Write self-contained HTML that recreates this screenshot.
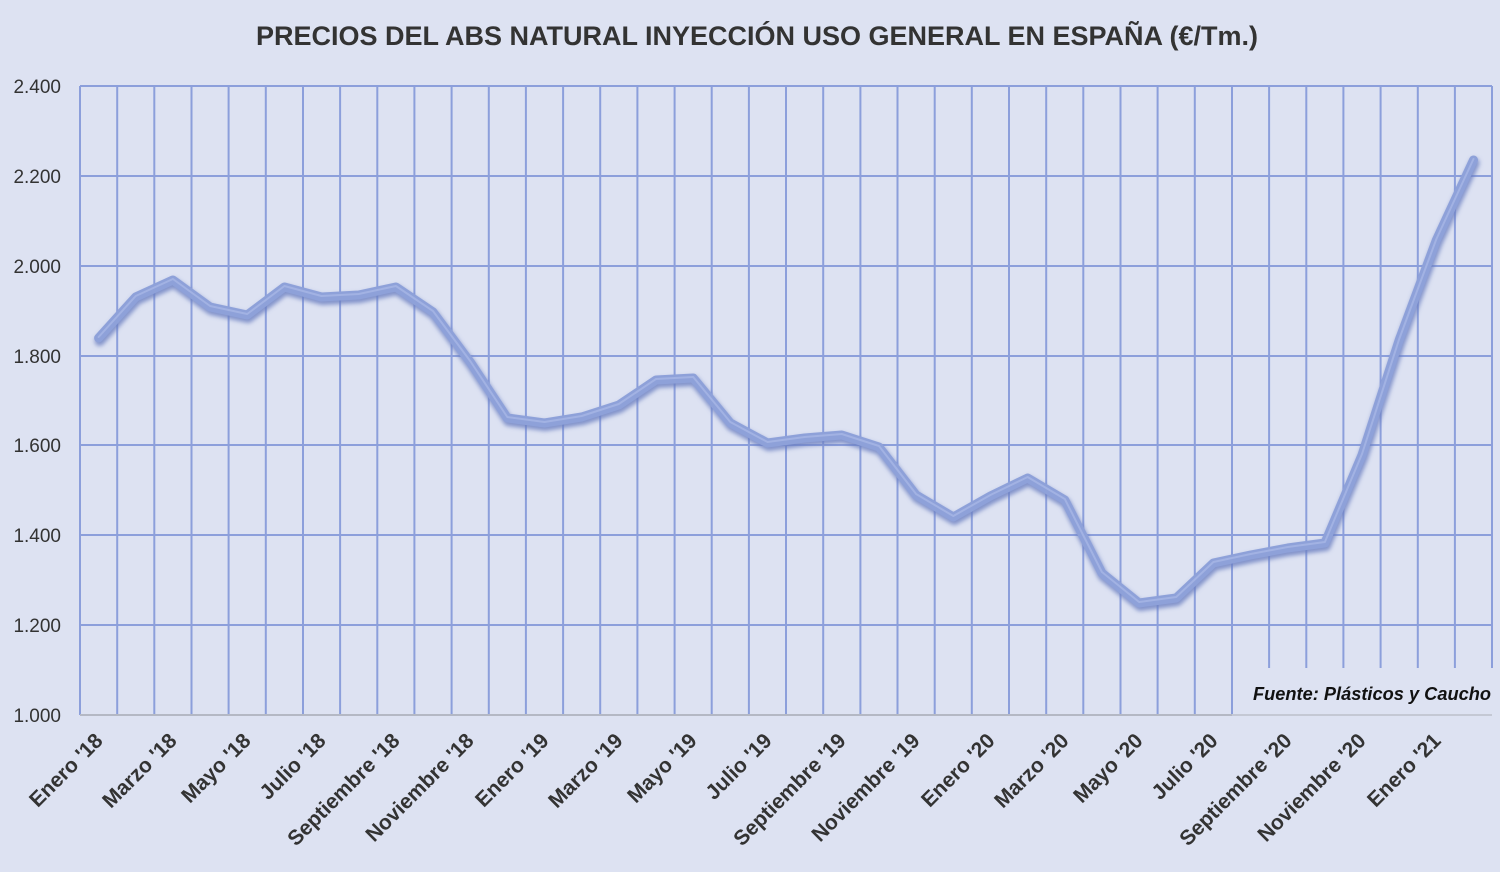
<!DOCTYPE html>
<html>
<head>
<meta charset="utf-8">
<style>
  html,body{margin:0;padding:0;background:#dde2f2;}
  svg{display:block;}
</style>
</head>
<body>
<svg width="1500" height="872" viewBox="0 0 1500 872" xmlns="http://www.w3.org/2000/svg">
  <defs>
    <filter id="blur" x="-5%" y="-5%" width="110%" height="110%">
      <feGaussianBlur stdDeviation="2"/>
    </filter>
  </defs>
  <rect x="0" y="0" width="1500" height="872" fill="#dde2f2"/>

  <!-- Title -->
  <text x="256" y="45" font-family="Liberation Sans, sans-serif" font-weight="bold" font-size="27" fill="#333333" textLength="1002" lengthAdjust="spacingAndGlyphs">PRECIOS DEL ABS NATURAL INYECCIÓN  USO GENERAL EN ESPAÑA  (€/Tm.)</text>

  <!-- Horizontal gridlines -->
  <g stroke="#8c9fdb" stroke-width="2">
    <line x1="80" y1="86" x2="1492" y2="86"/>
    <line x1="80" y1="176" x2="1492" y2="176"/>
    <line x1="80" y1="266" x2="1492" y2="266"/>
    <line x1="80" y1="356" x2="1492" y2="356"/>
    <line x1="80" y1="445" x2="1492" y2="445"/>
    <line x1="80" y1="535" x2="1492" y2="535"/>
    <line x1="80" y1="625" x2="1492" y2="625"/>
  </g>
  <!-- Vertical gridlines -->
  <g stroke="#8c9fdb" stroke-width="2">
    <line x1="80.0" y1="86" x2="80.0" y2="715"/>
    <line x1="117.2" y1="86" x2="117.2" y2="715"/>
    <line x1="154.3" y1="86" x2="154.3" y2="715"/>
    <line x1="191.5" y1="86" x2="191.5" y2="715"/>
    <line x1="228.6" y1="86" x2="228.6" y2="715"/>
    <line x1="265.8" y1="86" x2="265.8" y2="715"/>
    <line x1="303.0" y1="86" x2="303.0" y2="715"/>
    <line x1="340.1" y1="86" x2="340.1" y2="715"/>
    <line x1="377.3" y1="86" x2="377.3" y2="715"/>
    <line x1="414.4" y1="86" x2="414.4" y2="715"/>
    <line x1="451.6" y1="86" x2="451.6" y2="715"/>
    <line x1="488.8" y1="86" x2="488.8" y2="715"/>
    <line x1="525.9" y1="86" x2="525.9" y2="715"/>
    <line x1="563.1" y1="86" x2="563.1" y2="715"/>
    <line x1="600.2" y1="86" x2="600.2" y2="715"/>
    <line x1="637.4" y1="86" x2="637.4" y2="715"/>
    <line x1="674.6" y1="86" x2="674.6" y2="715"/>
    <line x1="711.7" y1="86" x2="711.7" y2="715"/>
    <line x1="748.9" y1="86" x2="748.9" y2="715"/>
    <line x1="786.0" y1="86" x2="786.0" y2="715"/>
    <line x1="823.2" y1="86" x2="823.2" y2="715"/>
    <line x1="860.4" y1="86" x2="860.4" y2="715"/>
    <line x1="897.5" y1="86" x2="897.5" y2="715"/>
    <line x1="934.7" y1="86" x2="934.7" y2="715"/>
    <line x1="971.8" y1="86" x2="971.8" y2="715"/>
    <line x1="1009.0" y1="86" x2="1009.0" y2="715"/>
    <line x1="1046.2" y1="86" x2="1046.2" y2="715"/>
    <line x1="1083.3" y1="86" x2="1083.3" y2="715"/>
    <line x1="1120.5" y1="86" x2="1120.5" y2="715"/>
    <line x1="1157.6" y1="86" x2="1157.6" y2="715"/>
    <line x1="1194.8" y1="86" x2="1194.8" y2="715"/>
    <line x1="1232.0" y1="86" x2="1232.0" y2="715"/>
    <line x1="1269.1" y1="86" x2="1269.1" y2="715"/>
    <line x1="1306.3" y1="86" x2="1306.3" y2="715"/>
    <line x1="1343.4" y1="86" x2="1343.4" y2="715"/>
    <line x1="1380.6" y1="86" x2="1380.6" y2="715"/>
    <line x1="1417.8" y1="86" x2="1417.8" y2="715"/>
    <line x1="1454.9" y1="86" x2="1454.9" y2="715"/>
    <line x1="1492.0" y1="86" x2="1492.0" y2="715"/>
  </g>

  <!-- Legend / source box covering grid -->
  <rect x="1233" y="668" width="262" height="47" fill="#dde2f2"/>

  <!-- X axis line -->
  <line x1="80" y1="715" x2="1232" y2="715" stroke="#b4b8c4" stroke-width="2"/>
  <line x1="1232" y1="715" x2="1492" y2="715" stroke="#c4c8d4" stroke-width="2"/>

  <!-- Y axis labels -->
  <g font-family="Liberation Sans, sans-serif" font-size="19" fill="#333333" text-anchor="end">
    <text x="61" y="93">2.400</text>
    <text x="61" y="183">2.200</text>
    <text x="61" y="273">2.000</text>
    <text x="61" y="363">1.800</text>
    <text x="61" y="452">1.600</text>
    <text x="61" y="542">1.400</text>
    <text x="61" y="632">1.200</text>
    <text x="61" y="722">1.000</text>
  </g>

  <!-- Data line -->
  <g fill="none" stroke-linejoin="round" stroke-linecap="round">
    <polyline filter="url(#blur)" transform="translate(1,3)" stroke="#6a7ec0" stroke-opacity="0.8" stroke-width="10"
      points="98.6,338 135.7,297 172.9,280 210.1,307 247.2,315 284.4,287 321.5,297 358.7,295 395.9,287 433.0,312 470.2,362 507.3,418 544.5,423 581.7,417 618.8,405 656.0,380 693.2,378 730.3,423 767.5,443 804.6,438 841.8,435 879.0,447 916.1,495 953.3,517 990.4,496 1027.6,478 1064.8,500 1101.9,573 1139.1,603 1176.2,598 1213.4,563 1250.6,555 1287.7,548 1324.9,543 1362.0,455 1399.2,340 1436.4,240 1473.5,160"/>
    <polyline stroke="#8ea1d9" stroke-width="9"
      points="98.6,338 135.7,297 172.9,280 210.1,307 247.2,315 284.4,287 321.5,297 358.7,295 395.9,287 433.0,312 470.2,362 507.3,418 544.5,423 581.7,417 618.8,405 656.0,380 693.2,378 730.3,423 767.5,443 804.6,438 841.8,435 879.0,447 916.1,495 953.3,517 990.4,496 1027.6,478 1064.8,500 1101.9,573 1139.1,603 1176.2,598 1213.4,563 1250.6,555 1287.7,548 1324.9,543 1362.0,455 1399.2,340 1436.4,240 1473.5,160"/>
    <polyline transform="translate(0,-1)" stroke="#a2b2e3" stroke-width="2"
      points="98.6,338 135.7,297 172.9,280 210.1,307 247.2,315 284.4,287 321.5,297 358.7,295 395.9,287 433.0,312 470.2,362 507.3,418 544.5,423 581.7,417 618.8,405 656.0,380 693.2,378 730.3,423 767.5,443 804.6,438 841.8,435 879.0,447 916.1,495 953.3,517 990.4,496 1027.6,478 1064.8,500 1101.9,573 1139.1,603 1176.2,598 1213.4,563 1250.6,555 1287.7,548 1324.9,543 1362.0,455 1399.2,340 1436.4,240 1473.5,160"/>
  </g>

  <!-- Source -->
  <text x="1491" y="700" text-anchor="end" font-family="Liberation Sans, sans-serif" font-weight="bold" font-style="italic" font-size="18" fill="#111111" textLength="238" lengthAdjust="spacingAndGlyphs">Fuente: Plásticos y Caucho</text>

  <!-- X axis labels -->
  <g font-family="Liberation Sans, sans-serif" font-weight="bold" font-size="21" fill="#333333" text-anchor="end">
    <text transform="translate(104,742) rotate(-45)">Enero '18</text>
    <text transform="translate(178,742) rotate(-45)">Marzo '18</text>
    <text transform="translate(252,742) rotate(-45)">Mayo '18</text>
    <text transform="translate(327,742) rotate(-45)">Julio '18</text>
    <text transform="translate(401,742) rotate(-45)">Septiembre  '18</text>
    <text transform="translate(475,742) rotate(-45)">Noviembre '18</text>
    <text transform="translate(550,742) rotate(-45)">Enero '19</text>
    <text transform="translate(624,742) rotate(-45)">Marzo '19</text>
    <text transform="translate(698,742) rotate(-45)">Mayo '19</text>
    <text transform="translate(773,742) rotate(-45)">Julio '19</text>
    <text transform="translate(847,742) rotate(-45)">Septiembre '19</text>
    <text transform="translate(921,742) rotate(-45)">Noviembre '19</text>
    <text transform="translate(996,742) rotate(-45)">Enero '20</text>
    <text transform="translate(1070,742) rotate(-45)">Marzo '20</text>
    <text transform="translate(1144,742) rotate(-45)">Mayo '20</text>
    <text transform="translate(1219,742) rotate(-45)">Julio '20</text>
    <text transform="translate(1293,742) rotate(-45)">Septiembre '20</text>
    <text transform="translate(1367,742) rotate(-45)">Noviembre '20</text>
    <text transform="translate(1442,742) rotate(-45)">Enero '21</text>
  </g>
</svg>
</body>
</html>
